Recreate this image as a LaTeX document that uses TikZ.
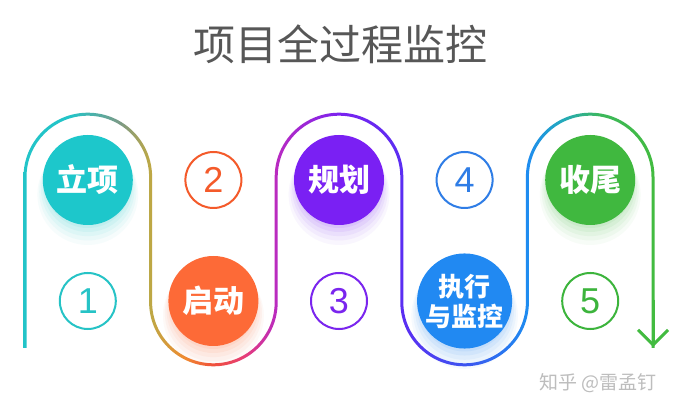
\documentclass[tikz,border=0pt]{standalone}
\usepackage{fontspec}
\setmainfont{Liberation Sans}
\newfontfamily\cjk{Noto Sans CJK SC}
\usepackage{tikz}
\usetikzlibrary{arrows.meta,positioning,shadows}

\definecolor{cteal}{HTML}{1DC7CB}
\definecolor{corange}{HTML}{FD6A37}
\definecolor{cpurple}{HTML}{7A20F3}
\definecolor{cblue}{HTML}{2189F2}
\definecolor{cgreen}{HTML}{40B83F}
\definecolor{nteal}{HTML}{26C3C6}
\definecolor{norange}{HTML}{F45A2A}
\definecolor{npurple}{HTML}{7A25EE}
\definecolor{nblue}{HTML}{2F7DE6}
\definecolor{ngreen}{HTML}{3CB43C}
\definecolor{ctitle}{HTML}{575757}
\definecolor{cmark}{HTML}{BDBDBD}
% colours along the line
\definecolor{lteal}{HTML}{22C4C8}
\definecolor{lgray}{HTML}{7C9A86}
\definecolor{lgold}{HTML}{BDA845}
\definecolor{lorange}{HTML}{F08A30}
\definecolor{lred}{HTML}{F0503C}
\definecolor{lpink}{HTML}{E63C7A}
\definecolor{lmagenta}{HTML}{B82AC2}
\definecolor{lpurple}{HTML}{7A22F0}
\definecolor{lviolet}{HTML}{5A2EF2}
\definecolor{lindigo}{HTML}{3E52F0}
\definecolor{lblue}{HTML}{1E8CF0}
\definecolor{lcyan}{HTML}{22A8C0}
\definecolor{lgreen}{HTML}{3CB85C}
\definecolor{lgreenb}{HTML}{42BB40}

\pgfdeclarehorizontalshading{snake}{100bp}{color(0bp)=(lteal); color(30.15bp)=(lteal);
  color(33.82bp)=(lgray); color(36.03bp)=(lgold); color(38.6bp)=(lorange);
  color(40.66bp)=(lred); color(43.01bp)=(lpink); color(45.37bp)=(lmagenta);
  color(50bp)=(lpurple); color(54.63bp)=(lviolet); color(59.19bp)=(lindigo);
  color(63.75bp)=(lblue); color(66.18bp)=(lcyan); color(69.12bp)=(lgreen);
  color(73bp)=(lgreenb); color(100bp)=(lgreenb)}

\begin{document}
\begin{tikzpicture}[x=1pt,y=-1pt,node distance=125.6pt,
    stage/.style={circle,fill=#1,text=white,minimum size=90pt,inner sep=0pt,
      font=\cjk\bfseries\fontsize{31}{31}\selectfont,
      general shadow={fill=#1,opacity=.04,shadow scale=1.12,shadow yshift=-13pt},
      general shadow={fill=#1,opacity=.05,shadow scale=1.08,shadow yshift=-11pt},
      general shadow={fill=#1,opacity=.06,shadow scale=1.04,shadow yshift=-9pt},
      general shadow={fill=#1,opacity=.07,shadow scale=1.0,shadow yshift=-7pt},
      general shadow={fill=#1,opacity=.08,shadow scale=.96,shadow yshift=-5pt}},
    stepnum/.style={circle,draw=#1,line width=2pt,text=#1,minimum size=56pt,
      inner sep=0pt,font=\fontsize{36}{36}\selectfont}]
\useasboundingbox[fill=white] (0,0) rectangle (680,411);

% the winding line
\begin{scope}
\clip (23.5,348) -- (23.5,177) arc[start angle=180,end angle=360,radius=64.3]
  -- (152.1,302) arc[start angle=180,end angle=0,radius=61.3]
  -- (274.7,177) arc[start angle=180,end angle=360,radius=64.3]
  -- (403.3,302) arc[start angle=180,end angle=0,radius=61.3]
  -- (525.9,177) arc[start angle=180,end angle=360,radius=64.3]
  -- (654.5,348) -- (651.5,348)
  -- (651.5,177) arc[start angle=360,end angle=180,radius=61.3]
  -- (528.9,302) arc[start angle=0,end angle=180,radius=64.3]
  -- (400.3,177) arc[start angle=360,end angle=180,radius=61.3]
  -- (277.7,302) arc[start angle=0,end angle=180,radius=64.3]
  -- (149.1,177) arc[start angle=360,end angle=180,radius=61.3]
  -- (26.5,348) -- cycle;
\shade[shading=snake] (0,0) rectangle (680,411);
\end{scope}
\coordinate (tail) at (653,300);
\coordinate (tip) at (653,347);
\draw[lgreenb,line width=3pt,-{Straight Barb[length=15pt,width=30pt]}] (tail) -- (tip);

\node[font=\cjk\fontsize{42}{42}\selectfont,text=ctitle] (title) at (340,44) {项目全过程监控};

\node[stage=cteal] (1) at (87.8,180) {立项};
\node[stepnum=nteal,below of=1,node distance=121pt] (c1) {1};
\node[stage=corange,right of=c1] (2) {启动};
\node[stepnum=norange,above of=2,node distance=121pt] (c2) {2};
\node[stage=cpurple,right of=c2] (3) {规划};
\node[stepnum=npurple,below of=3,node distance=121pt] (c3) {3};
\node[stage=cblue,right of=c3,align=center,
      font=\cjk\bfseries\fontsize{26}{30}\selectfont] (4) {执行\\与监控};
\node[stepnum=nblue,above of=4,node distance=121pt] (c4) {4};
\node[stage=cgreen,right of=c4] (5) {收尾};
\node[stepnum=ngreen,below of=5,node distance=121pt] (c5) {5};

\node[font=\cjk\fontsize{19}{19}\selectfont,text=cmark] (mark) at (598,383) {知乎 @雷孟钉};
\end{tikzpicture}
\end{document}
